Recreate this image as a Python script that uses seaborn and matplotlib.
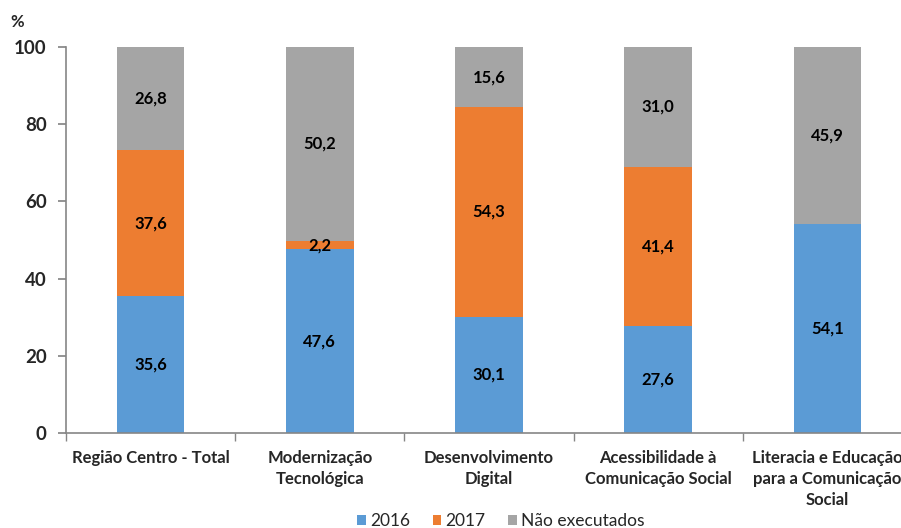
import matplotlib
matplotlib.use("Agg")
import matplotlib.pyplot as plt
import seaborn as sns
import pandas as pd
import numpy as np
from matplotlib.patches import Patch

categories = ["Região Centro - Total", "Modernização\nTecnológica", "Desenvolvimento\nDigital",
              "Acessibilidade à\nComunicação Social", "Literacia e Educação\npara a Comunicação\nSocial"]
v2016 = [35.6, 47.6, 30.1, 27.6, 54.1]
v2017 = [37.6, 2.2, 54.3, 41.4, 0.0]
vnao = [26.8, 50.2, 15.6, 31.0, 45.9]
series_names = ["2016", "2017", "Não executados"]
colors = ["#5B9BD5", "#ED7D31", "#A5A5A5"]

sns.set_theme(style="white")
plt.rcParams['font.family'] = ['Lato', 'DejaVu Sans']

df = pd.DataFrame({"cat": categories, "s2016": v2016, "s2017": v2017, "nao": vnao})
df["c1"] = df["s2016"]
df["c2"] = df["s2016"] + df["s2017"]
df["c3"] = df["c2"] + df["nao"]

fig = plt.figure(figsize=(9.01, 5.28), dpi=100)
ax = fig.add_axes([66/901, 1-433/528, 846/901, 386/528])

for col, c in zip(["c3", "c2", "c1"], colors[::-1]):
    sns.barplot(data=df, x="cat", y=col, color=c, width=0.4, ax=ax, saturation=1,
                edgecolor="none", linewidth=0, errorbar=None)

# labels
for i in range(len(categories)):
    segs = [(0, v2016[i]), (v2016[i], v2017[i]), (v2016[i] + v2017[i], vnao[i])]
    for b, h in segs:
        if h > 0:
            ax.text(i, b + h / 2, f"{h:.1f}".replace(".", ","), ha="center", va="center",
                    fontsize=12, fontweight="bold", color="black")

ax.set_ylim(0, 100)
ax.set_xlim(-0.5, 4.5)
ax.set_yticks([0, 20, 40, 60, 80, 100])
ax.set_xlabel("")
ax.set_ylabel("")
for s in ["top", "right"]:
    ax.spines[s].set_visible(False)
for s in ["left", "bottom"]:
    ax.spines[s].set_color("#868686")
    ax.spines[s].set_linewidth(1.2)
ax.tick_params(axis="y", left=True, length=6, color="#868686", labelsize=13.5, pad=8)
for t in ax.get_yticklabels():
    t.set_fontweight("bold")
ax.set_xticks(range(5))
ax.set_xticklabels(categories, fontsize=12, fontweight="bold", linespacing=1.4)
ax.tick_params(axis="x", bottom=True, length=0, pad=12)
ax.set_xticks(np.arange(-0.5, 5, 1), minor=True)
ax.tick_params(axis="x", which="minor", bottom=True, length=6, color="#868686")

fig.text(10/901, 1-22/528, "%", fontsize=12, fontweight="bold", ha="left", va="center")

handles = [Patch(facecolor=c, edgecolor="none") for c in colors]
fig.legend(handles, series_names, loc="center", bbox_to_anchor=(501/901, 1-521/528), ncol=3,
           frameon=False, fontsize=12.5, handlelength=0.5, handleheight=0.5, handletextpad=0.25,
           columnspacing=1.3, borderpad=0)

fig.savefig("out.png", dpi=100)
